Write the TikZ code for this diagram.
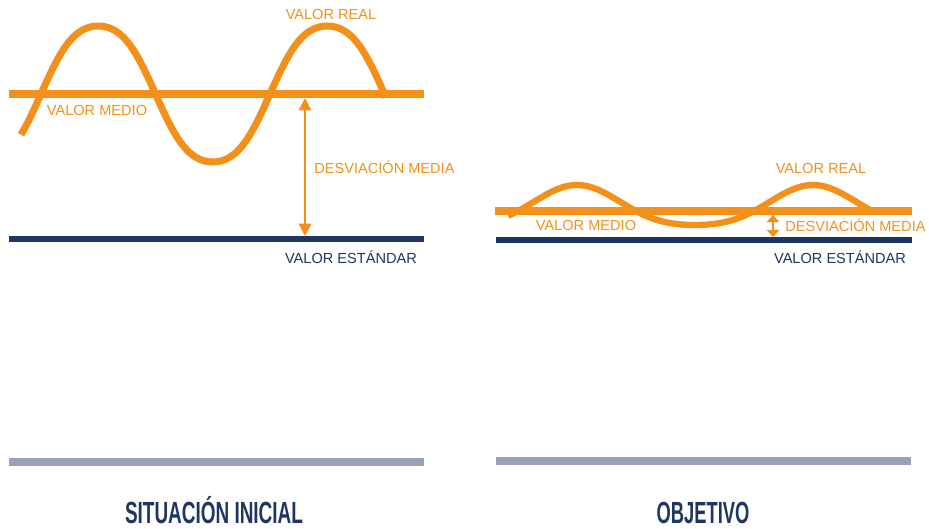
\documentclass[tikz,border=0pt]{standalone}
\usepackage{fontspec}
\setmainfont{Liberation Sans}
\usepackage{graphicx}
\usetikzlibrary{arrows.meta}

\definecolor{naranja}{HTML}{F39019}
\definecolor{marino}{HTML}{1F3562}
\definecolor{gris}{HTML}{97A2B5}

\tikzset{
  etiqueta/.style={font=\fontsize{8.3}{10}\selectfont, inner sep=0pt},
  titulo/.style={font=\fontsize{17.4}{20}\selectfont\bfseries, text=marino, inner sep=0pt, anchor=base},
  desvio/.style={{Triangle[width=7pt,length=#1]}-{Triangle[width=7pt,length=#1]}, naranja, line width=1.2pt},
  desvio/.default=7pt,
  declare function={onda(\t)=1.2*sin(\t)-0.2*pow(sin(\t),3);},
}

\begin{document}
\begin{tikzpicture}[x=0.02cm, y=-0.02cm]
        \useasboundingbox (0,0) rectangle (929,528);

        % situacion inicial
        \draw[naranja, line width=4pt] (9,94) -- (424,94);
        \draw[marino, line width=3.4pt] (9,239) -- (424,239);
        \draw[naranja, line width=4pt, domain=21:386, samples=150] plot (\x, {94-68*onda((\x-41)/229*360)});
        \coordinate (medio1) at (305,98);
        \coordinate (estandar1) at (305,236);
        \draw[desvio] (medio1) -- (estandar1);

        \node[etiqueta, naranja] (real1) at (331,14) {VALOR REAL};
        \node[etiqueta, naranja] (vmedio1) at (97,110) {VALOR MEDIO};
        \node[etiqueta, naranja, anchor=west] (desv1) at (314,167) {DESVIACIÓN MEDIA};
        \node[etiqueta, marino] (vest1) at (351,257) {VALOR ESTÁNDAR};

        % objetivo
        \draw[naranja, line width=4pt] (495,211) -- (912,211);
        \draw[marino, line width=3.4pt] (496,240) -- (912,240);
        \draw[naranja, line width=3.6pt, domain=508:873, samples=150] plot (\x, {211-20*sin((\x-518)/236*360)-6*pow(sin((\x-518)/236*360),2)});
        \coordinate (medio2) at (773,215);
        \coordinate (estandar2) at (773,237);
        \draw[desvio=4pt] (medio2) -- (estandar2);

        \node[etiqueta, naranja] (real2) at (821,168) {VALOR REAL};
        \node[etiqueta, naranja] (vmedio2) at (586,225) {VALOR MEDIO};
        \node[etiqueta, naranja, anchor=west] (desv2) at (785,225) {DESVIACIÓN MEDIA};
        \node[etiqueta, marino] (vest2) at (840,257) {VALOR ESTÁNDAR};

        % titulos
        \draw[gris, line width=4pt] (9,462) -- (424,462);
        \draw[gris, line width=4pt] (496,461) -- (911,461);
        \node[titulo] (sit) at (214,523) {\scalebox{0.62}[1]{SITUACIÓN INICIAL}};
        \node[titulo] (obj) at (703,523) {\scalebox{0.6}[1]{OBJETIVO}};
    \end{tikzpicture}
\end{document}
